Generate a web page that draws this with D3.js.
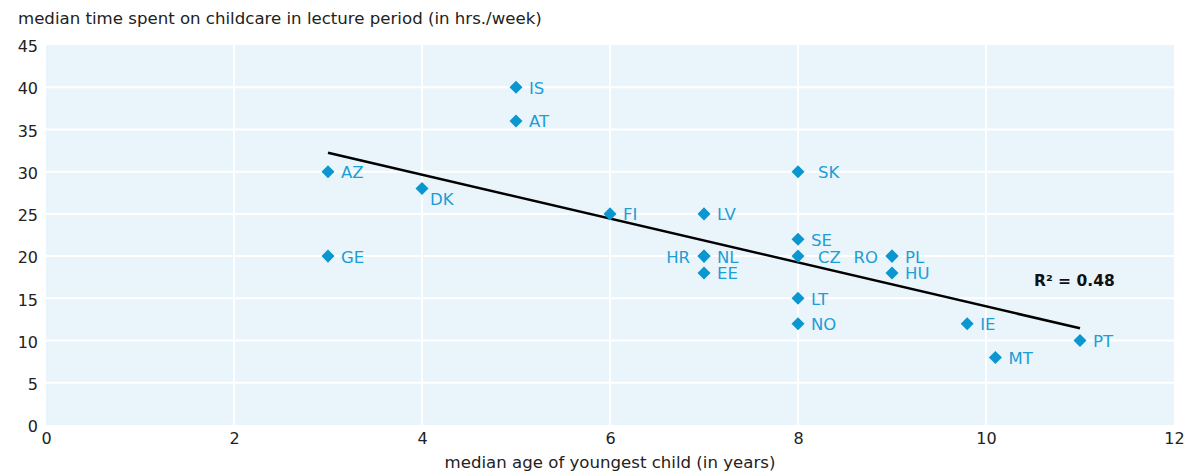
<!DOCTYPE html>
<html><head><meta charset="utf-8">
<script src="https://cdn.jsdelivr.net/npm/d3@7"></script>
<style>body{margin:0;background:#fff}svg{display:block}</style>
</head><body>
<svg id="c" width="1191" height="472"></svg>
<script>
const countries = ["AZ","GE","DK","IS","AT","FI","LV","HR","NL","EE","SK","SE","CZ","LT","NO","RO","PL","HU","IE","MT","PT"];
const childAge  = [3,3,4,5,5,6,7,7,7,7,8,8,8,8,8,9,9,9,9.8,10.1,11];
const careHours = [30,20,28,40,36,25,25,20,20,18,30,22,20,15,12,20,20,18,12,8,10];
const labelSide = ["r","r","br","r","r","r","r","l","r","r","r2","r","r2","r","r","l","r","r","r","r","r"];
const trendX = [3,11];
const trendY = [32.25,11.45];
const xTicks = [0,2,4,6,8,10,12];
const yTicks = [0,5,10,15,20,25,30,35,40,45];
const r2Text = "R² = 0.48";

const svg = d3.select("#c");
const m = {l:46,r:1174,t:45,b:425};
const x = d3.scaleLinear().domain([0,12]).range([m.l,m.r]);
const y = d3.scaleLinear().domain([0,45]).range([m.b,m.t]);
const font = "'DejaVu Sans', sans-serif";

svg.append("rect").attr("x",m.l).attr("y",m.t).attr("width",m.r-m.l).attr("height",m.b-m.t).attr("fill","#e9f4fb");

svg.append("g").selectAll("line").data(xTicks.filter(d=>d>0&&d<12)).join("line")
  .attr("x1",d=>x(d)).attr("x2",d=>x(d)).attr("y1",m.t).attr("y2",m.b)
  .attr("stroke","#fff").attr("stroke-width",2);
svg.append("g").selectAll("line").data(yTicks.filter(d=>d>0&&d<45)).join("line")
  .attr("y1",d=>y(d)).attr("y2",d=>y(d)).attr("x1",m.l).attr("x2",m.r)
  .attr("stroke","#fff").attr("stroke-width",2);

const yAxis = svg.append("g").attr("transform",`translate(${m.l},0)`)
  .call(d3.axisLeft(y).tickValues(yTicks).tickSize(0).tickPadding(8));
yAxis.select(".domain").remove();
yAxis.selectAll("text").attr("font-family",font).attr("font-size",16).attr("fill","#222").attr("dy","0.42em");

const xAxis = svg.append("g").attr("transform",`translate(0,${m.b})`)
  .call(d3.axisBottom(x).tickValues(xTicks).tickSize(0).tickPadding(8));
xAxis.select(".domain").remove();
xAxis.selectAll("text").attr("font-family",font).attr("font-size",16).attr("fill","#222");

svg.append("text").attr("x",18).attr("y",24).attr("font-family",font).attr("font-size",16.6).attr("fill","#222")
  .text("median time spent on childcare in lecture period (in hrs./week)");
svg.append("text").attr("x",610).attr("y",468).attr("text-anchor","middle").attr("font-family",font).attr("font-size",16.6).attr("fill","#222")
  .text("median age of youngest child (in years)");

svg.append("line").attr("x1",x(trendX[0])).attr("y1",y(trendY[0])).attr("x2",x(trendX[1])).attr("y2",y(trendY[1]))
  .attr("stroke","#000").attr("stroke-width",2.5);

const idx = d3.range(countries.length);
svg.append("g").selectAll("path").data(idx).join("path")
  .attr("transform",i=>`translate(${x(childAge[i])},${y(careHours[i])}) rotate(45)`)
  .attr("d",d3.symbol().type(d3.symbolSquare).size(85))
  .attr("fill","#0a96cf");

svg.append("g").selectAll("text").data(idx).join("text")
  .attr("x",i=>{const s=labelSide[i];const px=x(childAge[i]);return s==="l"?px-14:s==="r2"?px+20:s==="br"?px+8:px+13;})
  .attr("y",i=>y(careHours[i])+(labelSide[i]==="br"?11:0.5))
  .attr("dy","0.36em")
  .attr("text-anchor",i=>labelSide[i]==="l"?"end":"start")
  .attr("font-family",font).attr("font-size",16.5).attr("fill","#1c9ed6")
  .text(i=>countries[i]);

svg.append("text").attr("x",1034).attr("y",286).attr("font-family",font).attr("font-size",15.5).attr("font-weight","bold").attr("fill","#111")
  .text(r2Text);
</script>
</body></html>
